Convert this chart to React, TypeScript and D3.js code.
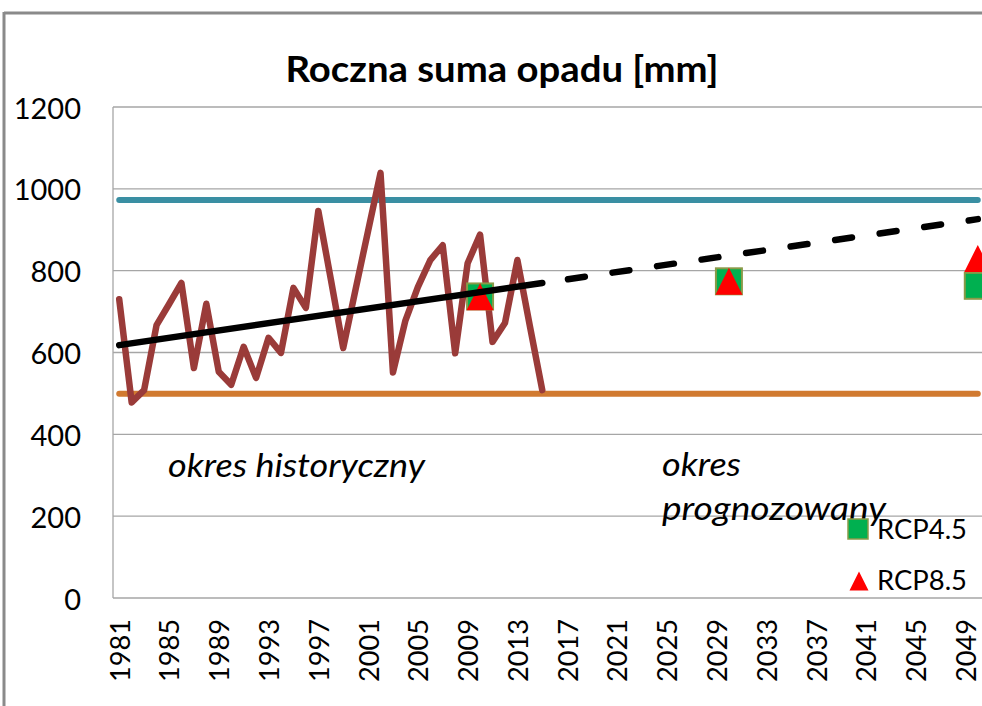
import React from "react";
import * as d3 from "d3";

const historyYears = d3.range(1981, 2016);
const precipitation = [
  730, 478, 508, 667, 718, 770, 562, 719, 553, 521,
  614, 538, 636, 599, 758, 709, 946, 780, 611, 755,
  897, 1039, 551, 678, 760, 826, 862, 598, 818, 888,
  626, 672, 826, 665, 508,
];
const allYears = d3.range(1981, 2051);
const tickYears = d3.range(1981, 2051, 4);
const yTicks = [0, 200, 400, 600, 800, 1000, 1200];
const upperLevel = 973;
const lowerLevel = 499;
const trendHistory: [number, number][] = [[1981, 618], [2015, 770]];
const trendProjection: [number, number][] = [[2015, 770], [2050, 926]];
const rcp45: [number, number][] = [[2010, 737], [2030, 774], [2050, 763]];
const rcp85: [number, number][] = [[2010, 736], [2030, 774], [2050, 830]];

const W = 982;
const H = 706;
const L = 113;
const R = 984;
const T = 107;
const B = 598;

export default function App() {
  const x = d3.scaleBand<number>().domain(allYears).range([L, R]).padding(0);
  const cx = (yr: number) => (x(yr) as number) + x.bandwidth() / 2;
  const y = d3.scaleLinear().domain([0, 1200]).range([B, T]);
  const line = d3
    .line<[number, number]>()
    .x((d) => cx(d[0]))
    .y((d) => y(d[1]));
  const histPts: [number, number][] = historyYears.map((yr, i) => [yr, precipitation[i]]);
  const first = allYears[0];
  const last = allYears[allYears.length - 1];
  const sq = 26;
  const tri = (px: number, py: number, s: number) =>
    `M${px},${py - s / 2}L${px + s / 2},${py + s / 2}L${px - s / 2},${py + s / 2}Z`;

  return (
    <svg
      width={W}
      height={H}
      style={{ position: "absolute", left: 0, top: 0, background: "#fff" }}
      fontFamily="Lato"
    >
      <rect x={0} y={0} width={W} height={H} fill="#fff" />
      {/* outer frame */}
      <line x1={4} y1={13} x2={W} y2={13} stroke="#8a8a8a" strokeWidth={3} />
      <line x1={4} y1={12} x2={4} y2={H} stroke="#8a8a8a" strokeWidth={3} />

      <text
        x={502}
        y={82}
        textAnchor="middle"
        fontWeight="bold"
        fontSize={36}
        textLength={433}
        lengthAdjust="spacingAndGlyphs"
        fill="#000"
      >
        Roczna suma opadu [mm]
      </text>

      {/* gridlines */}
      {yTicks.map((t) => (
        <line key={t} x1={L} x2={R} y1={y(t)} y2={y(t)} stroke="#a6a6a6" strokeWidth={1.3} />
      ))}
      <line x1={L} x2={L} y1={T} y2={B} stroke="#a6a6a6" strokeWidth={1.3} />

      {/* y labels */}
      {yTicks.map((t) => (
        <text key={t} x={81} y={y(t)} textAnchor="end" dominantBaseline="central" fontSize={29} fill="#000">
          {t}
        </text>
      ))}

      {/* x labels */}
      {tickYears.map((yr) => (
        <text
          key={yr}
          transform={`translate(${cx(yr)},${619}) rotate(-90)`}
          textAnchor="end"
          dominantBaseline="central"
          fontSize={27}
          textLength={63}
          lengthAdjust="spacingAndGlyphs"
          fill="#000"
        >
          {yr}
        </text>
      ))}

      {/* reference levels */}
      <line x1={cx(first)} x2={cx(last)} y1={y(upperLevel)} y2={y(upperLevel)} stroke="#3a8fa3" strokeWidth={6} strokeLinecap="round" />
      <line x1={cx(first)} x2={cx(last)} y1={y(lowerLevel)} y2={y(lowerLevel)} stroke="#d17a30" strokeWidth={6} strokeLinecap="round" />

      {/* historical series */}
      <path d={line(histPts) as string} fill="none" stroke="#9a3b39" strokeWidth={6.5} strokeLinejoin="round" strokeLinecap="round" />

      {/* scenario markers */}
      {rcp45.map(([yr, v]) => (
        <rect key={yr} x={cx(yr) - sq / 2} y={y(v) - sq / 2} width={sq} height={sq} fill="#00b050" stroke="#8a9a48" strokeWidth={2} />
      ))}
      {rcp85.map(([yr, v]) => (
        <path key={yr} d={tri(cx(yr), y(v), 27)} fill="#ff0000" />
      ))}

      {/* trend */}
      <path d={line(trendHistory) as string} fill="none" stroke="#000" strokeWidth={6.5} strokeLinecap="round" />
      <path
        d={line(trendProjection) as string}
        fill="none"
        stroke="#000"
        strokeWidth={6.5}
        strokeLinecap="round"
        strokeDasharray="17 28"
        strokeDashoffset={19}
      />

      {/* annotations */}
      <text x={168} y={477} fontStyle="italic" fontSize={32} textLength={257} lengthAdjust="spacingAndGlyphs" fill="#000">
        okres historyczny
      </text>
      <text x={662} y={476} fontStyle="italic" fontSize={32} textLength={79} lengthAdjust="spacingAndGlyphs" fill="#000">
        okres
      </text>
      <text x={662} y={520} fontStyle="italic" fontSize={32} textLength={224} lengthAdjust="spacingAndGlyphs" fill="#000">
        prognozowany
      </text>

      {/* legend */}
      <rect x={848} y={519} width={20} height={20} fill="#00b050" stroke="#8a9a48" strokeWidth={1.5} />
      <text x={877} y={539} fontSize={27} textLength={90} lengthAdjust="spacingAndGlyphs" fill="#000">
        RCP4.5
      </text>
      <path d={tri(859, 581, 19)} fill="#ff0000" />
      <text x={877} y={590} fontSize={27} textLength={90} lengthAdjust="spacingAndGlyphs" fill="#000">
        RCP8.5
      </text>
    </svg>
  );
}
